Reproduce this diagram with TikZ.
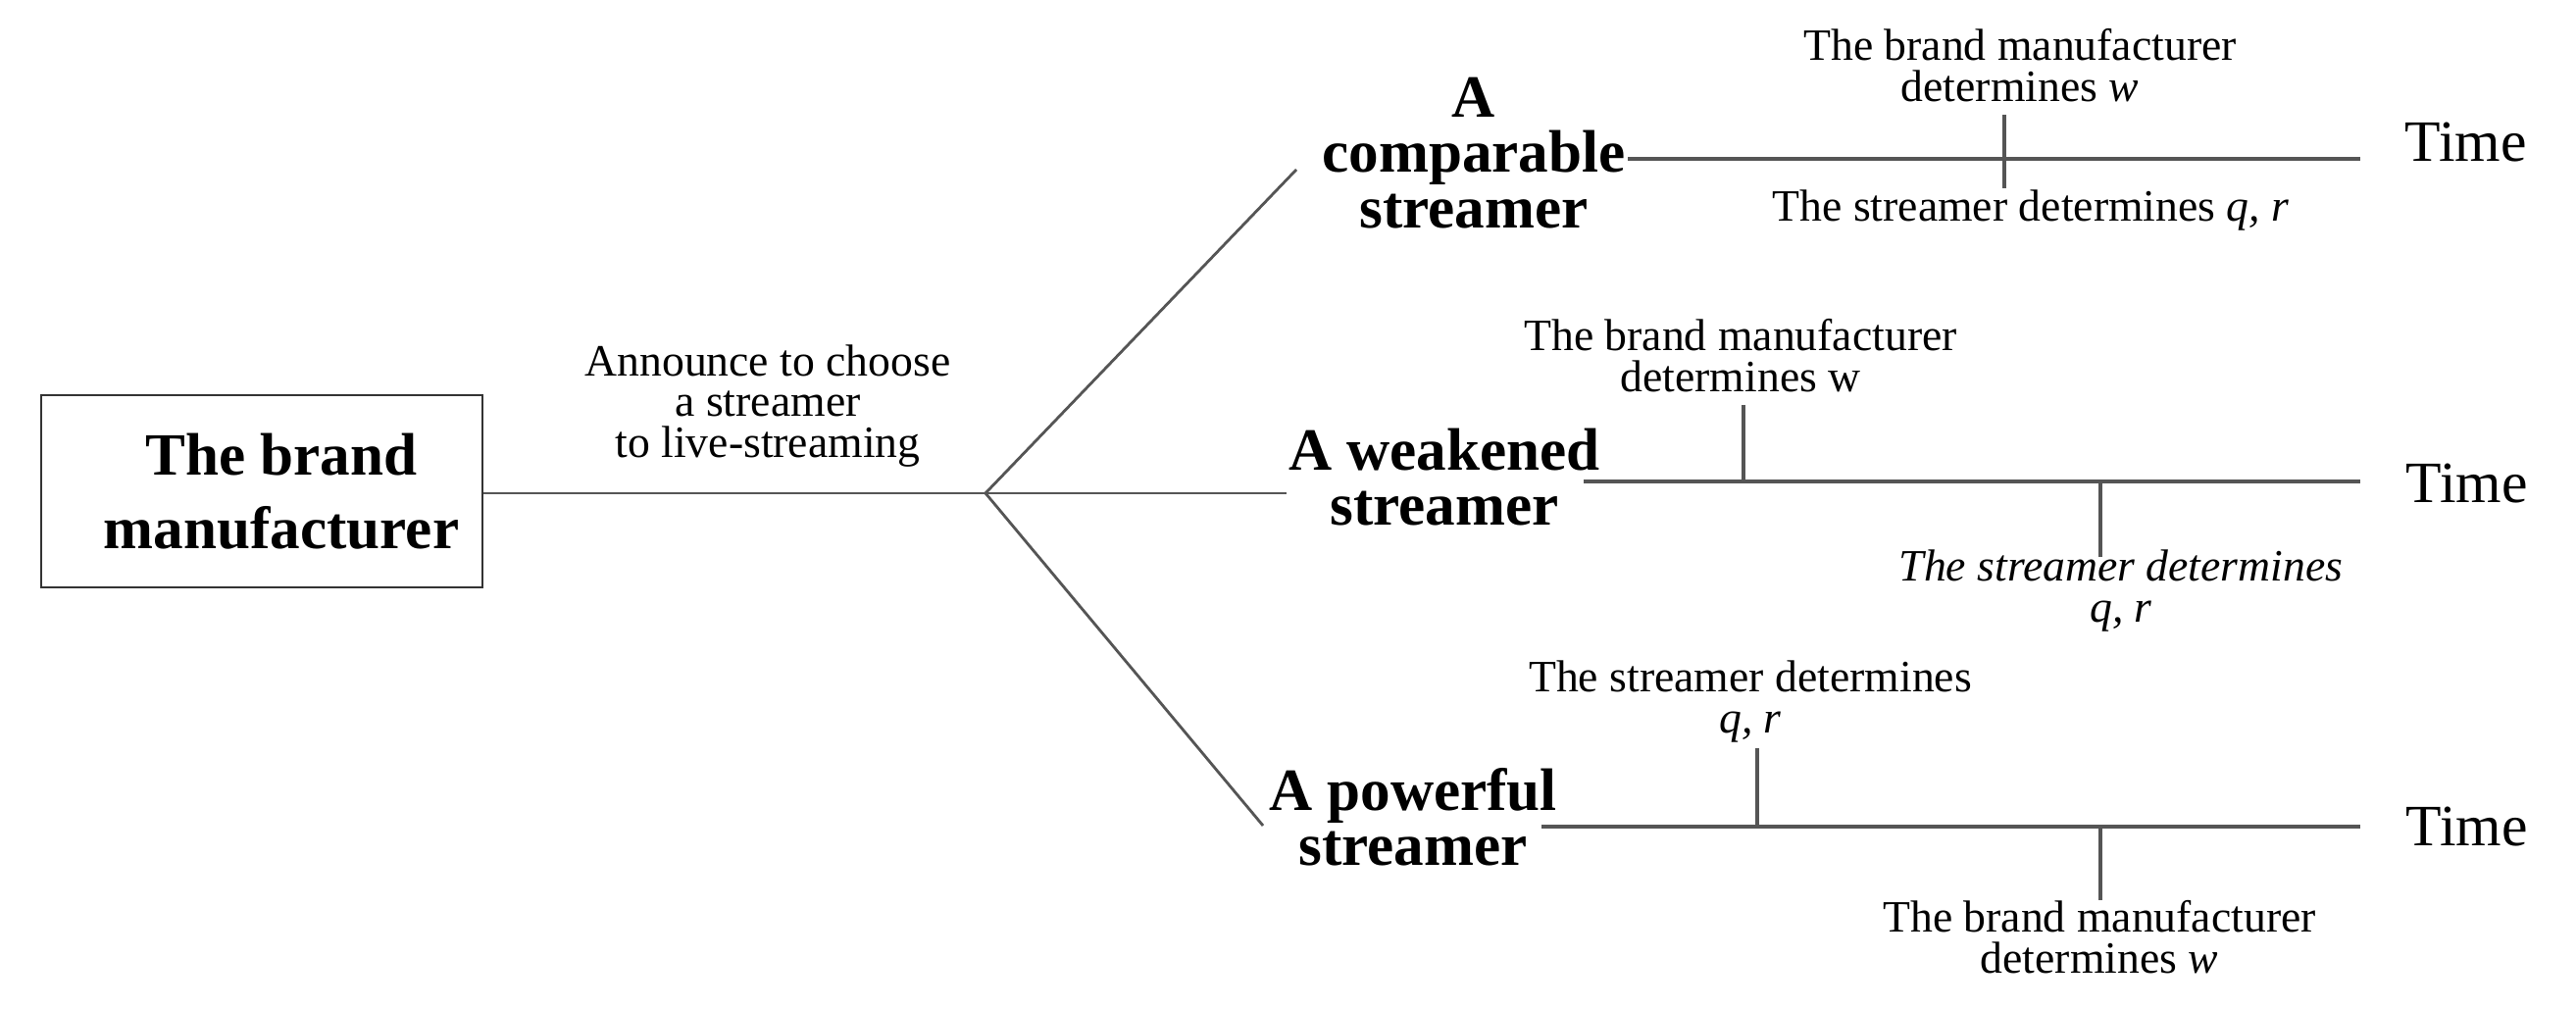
\documentclass[tikz,border=0pt]{standalone}
\usepackage{fontspec}
\setmainfont{Liberation Serif}
\usepackage{xcolor}
\usepackage{tikz}
\usetikzlibrary{calc, positioning}

\definecolor{linegray}{HTML}{555555}
\newcommand{\evtfont}{\fontsize{13}{12}\selectfont}
\newcommand{\whofont}{\fontsize{17.4}{16}\selectfont\bfseries}

\tikzset{
    evt/.style={inner sep=0pt, align=center, font=\evtfont},
    who/.style={inner sep=0pt, align=center, font=\whofont},
    timelbl/.style={inner sep=0pt, anchor=base west, font=\fontsize{17}{20}\selectfont},
    tline/.style={linegray, line width=1.15pt},
    tick/.style={linegray, line width=0.9pt},
    branch/.style={linegray, line width=0.8pt}
}

\begin{document}
\begin{tikzpicture}
    \useasboundingbox (0,0) rectangle (26.27,10.29);

    % 1. The brand manufacturer and the announcement
    \node[draw=black!80, line width=0.6pt, minimum width=4.5cm, minimum height=1.96cm]
          (maker) at (2.67,5.28) {};
    \node[inner sep=0pt, align=center, font=\fontsize{17.4}{21.3}\selectfont\bfseries]
          (makerlbl) at ([xshift=2mm]maker.center) {The brand\\manufacturer};
    \node[evt, font=\fontsize{13}{11.7}\selectfont] (announce) at (7.83,6.15)
          {Announce to choose\\a streamer\\to live-streaming};
    \coordinate (fork) at (10.05,5.26);
    \draw[branch] (maker.east |- fork) -- (fork);

    % 2. Three branches towards the streamer types
    \coordinate (endA) at (13.22,8.56);
    \coordinate (endB) at (13.12,5.26);
    \coordinate (endC) at (12.88,1.87);
    \foreach \e in {endA, endB, endC} \draw[branch] (fork) -- (\e);

    \node[who] (compar) at (15.03,8.73) {A\\comparable\\streamer};
    \node[who] (weak) at (14.73,5.425) {A weakened\\streamer};
    \node[who] (power) at (14.41,1.955) {A powerful\\streamer};

    % 3. Time lines
    \coordinate (tA0) at (16.60,8.67);  \coordinate (tA1) at (24.07,8.67);
    \coordinate (tB0) at (16.15,5.38);  \coordinate (tB1) at (24.07,5.38);
    \coordinate (tC0) at (15.72,1.86);  \coordinate (tC1) at (24.07,1.86);
    \draw[tline] (tA0) -- (tA1);
    \draw[tline] (tB0) -- (tB1);
    \draw[tline] (tC0) -- (tC1);
    \node[timelbl] (timeA) at (24.52,8.64) {Time};
    \node[timelbl] (timeB) at (24.53,5.16) {Time};
    \node[timelbl] (timeC) at (24.53,1.66) {Time};

    % 4. Decision points on each time line
    % comparable streamer
    \node[evt] (mA) at (20.60,9.625) {The brand manufacturer\\determines \textit{w}};
    \node[evt] (sA) at (20.71,8.14) {The streamer determines \textit{q, r}};
    \draw[tick] (20.44,9.12) -- (20.44,8.37);

    % weakened streamer
    \node[evt] (mB) at (17.75,6.665) {The brand manufacturer\\determines w};
    \node[evt, font=\evtfont\itshape] (sB) at (21.63,4.265) {The streamer determines\\q, r};
    \draw[tick] (17.78,6.16) -- (17.78,5.38);
    \draw[tick] (21.42,5.38) -- (21.42,4.61);

    % powerful streamer
    \node[evt] (sC) at (17.85,3.135) {The streamer determines\\\textit{q, r}};
    \node[evt] (mC) at (21.41,0.735) {The brand manufacturer\\determines \textit{w}};
    \draw[tick] (17.92,2.66) -- (17.92,1.86);
    \draw[tick] (21.42,1.86) -- (21.42,1.11);

\end{tikzpicture}
\end{document}
